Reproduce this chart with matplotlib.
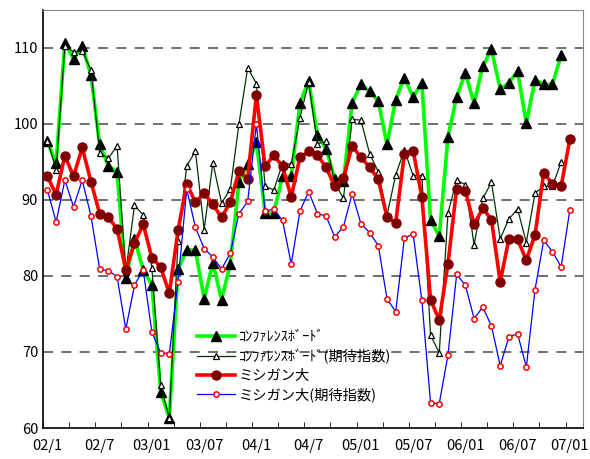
import numpy as np
import matplotlib
matplotlib.use("Agg")
import matplotlib.pyplot as plt

plt.rcParams['font.family'] = ['Noto Sans CJK JP', 'DejaVu Sans']

# monthly, 2002/01 .. 2007/01
xlabels = ["02/1", "02/7", "03/01", "03/07", "04/1", "04/7",
           "05/01", "05/07", "06/01", "06/07", "07/01"]

conf_board = [97.7, 94.8, 110.7, 108.5, 110.3, 106.4, 97.3, 94.5, 93.7, 79.7,
              84.9, 80.8, 78.8, 64.8, 61.3, 80.9, 83.4, 83.4, 77.0, 81.7,
              76.9, 81.6, 92.4, 94.7, 97.6, 88.3, 88.3, 93.1, 93.1, 102.7,
              105.7, 98.6, 96.7, 92.8, 92.5, 102.8, 105.2, 104.3, 103.0, 97.3,
              103.2, 106.1, 103.5, 105.4, 87.4, 85.2, 98.3, 103.6, 106.7, 102.7,
              107.6, 109.8, 104.6, 105.4, 106.9, 100.1, 105.8, 105.2, 105.2, 109.0]

conf_board_exp = [97.8, 94.0, 110.2, 109.5, 109.6, 107.1, 96.2, 95.5, 97.1, 80.5,
                  89.3, 88.0, 81.0, 65.7, 61.3, 84.6, 94.5, 96.4, 86.1, 94.9,
                  89.6, 91.4, 100.0, 107.4, 105.3, 91.8, 91.3, 94.8, 94.7, 100.8,
                  105.5, 97.4, 97.7, 92.2, 90.2, 100.6, 100.5, 96.1, 93.7, 88.0,
                  93.3, 96.6, 93.2, 93.2, 72.2, 69.9, 88.3, 92.6, 92.0, 84.1,
                  90.2, 92.3, 84.9, 87.5, 88.8, 84.4, 90.9, 91.8, 91.8, 95.0]

michigan = [93.1, 90.7, 95.8, 93.1, 96.9, 92.4, 88.2, 87.7, 86.2, 80.8,
            84.3, 86.8, 82.4, 81.2, 77.7, 86.0, 92.1, 89.7, 90.9, 89.4,
            87.7, 89.7, 93.8, 92.8, 103.8, 94.4, 95.9, 94.4, 90.4, 95.6,
            96.4, 95.9, 94.3, 91.8, 92.9, 97.1, 95.6, 94.3, 92.7, 87.7,
            87.0, 96.1, 96.5, 90.4, 76.9, 74.2, 81.6, 91.5, 91.2, 86.8,
            88.9, 87.4, 79.2, 84.9, 84.8, 82.1, 85.4, 93.6, 92.1, 91.8,
            98.0]

michigan_exp = [91.3, 87.1, 92.6, 89.1, 92.6, 87.9, 80.9, 80.7, 79.9, 73.0,
                78.8, 80.8, 72.6, 69.9, 69.8, 79.2, 91.4, 86.4, 83.6, 82.5,
                80.9, 83.0, 88.2, 89.8, 100.0, 88.5, 88.8, 87.3, 81.6, 88.5,
                91.1, 88.2, 87.9, 85.1, 86.5, 90.8, 86.9, 85.7, 84.0, 77.0,
                75.3, 85.0, 85.5, 76.8, 63.3, 63.2, 69.6, 80.2, 78.8, 74.4,
                75.9, 73.4, 68.2, 72.0, 72.4, 68.0, 78.2, 84.7, 83.2, 81.2,
                88.7]

fig = plt.figure(figsize=(5.9, 4.59), dpi=100)
ax = fig.add_axes([0.073, 0.0675, 0.915, 0.911])

ax.plot(np.arange(len(conf_board)), conf_board, color='#00ff00', lw=2.6,
        marker='^', ms=6.8, mfc='black', mec='black', label='ｺﾝﾌｧﾚﾝｽﾎﾞｰﾄﾞ', zorder=3)
ax.plot(np.arange(len(conf_board_exp)), conf_board_exp, color='#003300', lw=0.9,
        marker='^', ms=5, mfc='white', mec='black', mew=0.9,
        label='ｺﾝﾌｧﾚﾝｽﾎﾞｰﾄﾞ(期待指数)', zorder=4)
ax.plot(np.arange(len(michigan)), michigan, color='#ff0000', lw=2.6,
        marker='o', ms=6.5, mfc='#800000', mec='#800000', label='ミシガン大', zorder=5)
ax.plot(np.arange(len(michigan_exp)), michigan_exp, color='#0000ff', lw=0.9,
        marker='o', ms=3.8, mfc='white', mec='#ff0000', mew=1.1,
        label='ミシガン大(期待指数)', zorder=6)

ax.set_xlim(-0.5, 61.5)
ax.set_ylim(60, 115)
ax.set_yticks(np.arange(60, 111, 10))
ax.set_xticks(np.arange(0, 61, 6))
ax.set_xticklabels(xlabels, fontsize=10.5)
ax.set_xticks(np.arange(-0.5, 61.6, 3), minor=True)
ax.tick_params(axis='x', which='major', length=0, pad=8)
ax.tick_params(axis='x', which='minor', direction='in', length=4)
ax.tick_params(axis='y', direction='in', length=0, labelsize=10.5)
for y in range(70, 111, 10):
    ax.axhline(y, color='#555555', lw=1.2, ls=(0, (6, 5)), zorder=1)

for s in ['top', 'right']:
    ax.spines[s].set_color('#888888')
for s in ['left', 'bottom']:
    ax.spines[s].set_color('black')
    ax.spines[s].set_linewidth(1.2)

ax.legend(loc='upper left', bbox_to_anchor=(0.262, 0.265), frameon=False,
          fontsize=10.3, handlelength=2.6, labelspacing=0.33, handletextpad=0.3)

fig.savefig('out.png', dpi=100)
